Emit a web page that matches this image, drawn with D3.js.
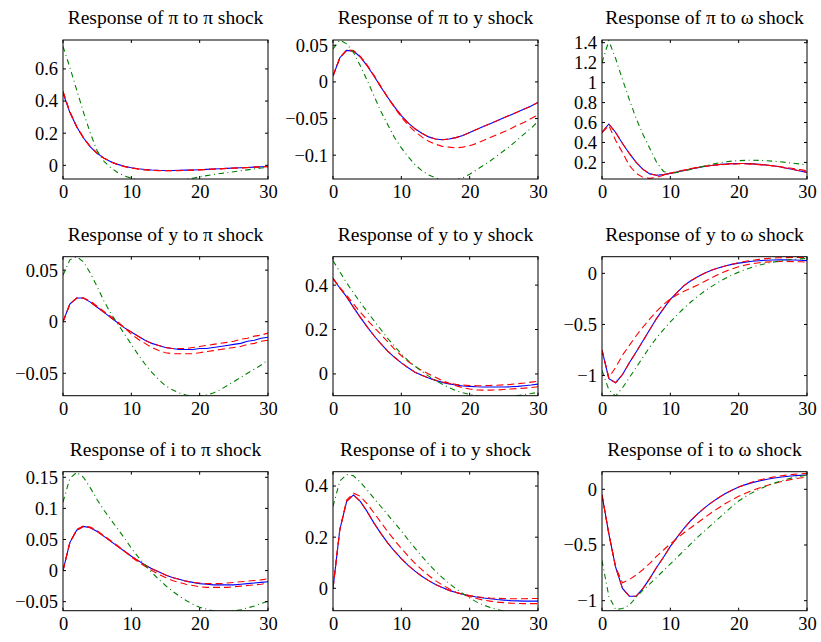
<!DOCTYPE html>
<html>
<head>
<meta charset="utf-8">
<script src="https://cdn.jsdelivr.net/npm/d3@7"></script>
<style>
  body { margin: 0; background: #fff; }
  svg { display: block; }
  text { font-family: "Liberation Serif", "Times New Roman", serif; fill: #000; }
</style>
</head>
<body>
<div class="canvas"></div>
<script>
// horizon (quarters after the shock)
const horizons = [0,1,2,3,4,5,6,7,8,9,10,11,12,13,14,15,16,17,18,19,20,21,22,23,24,25,26,27,28,29,30];
const xTicks = [0, 10, 20, 30];

const titles = [
  "Response of π to π shock", "Response of π to y shock", "Response of π to ω shock",
  "Response of y to π shock", "Response of y to y shock", "Response of y to ω shock",
  "Response of i to π shock", "Response of i to y shock", "Response of i to ω shock"
];

const yTicks = [
  [0, 0.2, 0.4, 0.6],
  [-0.1, -0.05, 0, 0.05],
  [0.2, 0.4, 0.6, 0.8, 1, 1.2, 1.4],
  [-0.05, 0, 0.05],
  [0, 0.2, 0.4],
  [-1, -0.5, 0],
  [-0.05, 0, 0.05, 0.1, 0.15],
  [0, 0.2, 0.4],
  [-1, -0.5, 0]
];

const yLimits = [
  [-0.085, 0.78], [-0.1325, 0.0572], [0.034, 1.427],
  [-0.0717, 0.063], [-0.098, 0.528], [-1.197, 0.163],
  [-0.0645, 0.159], [-0.0875, 0.456], [-1.09, 0.158]
];

// pi to pi
const piPiBlue  = [0.45,0.33,0.24,0.17,0.115,0.075,0.045,0.022,0.006,-0.006,-0.015,-0.021,-0.026,-0.029,-0.031,-0.032,-0.032,-0.031,-0.03,-0.029,-0.027,-0.025,-0.023,-0.021,-0.019,-0.017,-0.015,-0.013,-0.011,-0.009,-0.007];
const piPiRedA  = [0.46,0.33,0.24,0.17,0.115,0.074,0.044,0.021,0.005,-0.007,-0.016,-0.022,-0.027,-0.03,-0.032,-0.033,-0.033,-0.032,-0.031,-0.029,-0.027,-0.025,-0.023,-0.021,-0.019,-0.017,-0.015,-0.013,-0.011,-0.009,-0.007];
const piPiRedB  = [0.46,0.335,0.242,0.172,0.117,0.076,0.045,0.022,0.005,-0.008,-0.017,-0.023,-0.028,-0.031,-0.033,-0.034,-0.034,-0.033,-0.032,-0.03,-0.028,-0.026,-0.024,-0.022,-0.02,-0.018,-0.016,-0.014,-0.012,-0.01,-0.008];
const piPiGreen = [0.74,0.61,0.47,0.33,0.2,0.09,0.025,-0.015,-0.045,-0.066,-0.08,-0.09,-0.097,-0.101,-0.102,-0.101,-0.098,-0.093,-0.087,-0.08,-0.072,-0.064,-0.057,-0.051,-0.046,-0.04,-0.034,-0.028,-0.022,-0.017,-0.012];

// pi to y
const piYBlue  = [0.008,0.033,0.043,0.042,0.034,0.022,0.008,-0.007,-0.021,-0.034,-0.046,-0.056,-0.064,-0.07,-0.075,-0.078,-0.079,-0.078,-0.076,-0.073,-0.069,-0.065,-0.061,-0.057,-0.053,-0.049,-0.045,-0.041,-0.037,-0.033,-0.028];
const piYRedA  = [0.008,0.033,0.043,0.042,0.034,0.022,0.008,-0.007,-0.021,-0.034,-0.046,-0.056,-0.064,-0.07,-0.075,-0.078,-0.079,-0.078,-0.076,-0.073,-0.069,-0.065,-0.061,-0.057,-0.053,-0.049,-0.045,-0.041,-0.037,-0.033,-0.028];
const piYRedB  = [0.008,0.033,0.044,0.043,0.035,0.023,0.009,-0.006,-0.021,-0.035,-0.048,-0.059,-0.068,-0.075,-0.081,-0.085,-0.088,-0.089,-0.09,-0.089,-0.087,-0.084,-0.08,-0.076,-0.072,-0.068,-0.064,-0.059,-0.055,-0.05,-0.045];
const piYGreen = [0.045,0.057,0.052,0.04,0.022,0.002,-0.019,-0.04,-0.058,-0.076,-0.09,-0.102,-0.113,-0.121,-0.127,-0.131,-0.134,-0.135,-0.134,-0.131,-0.126,-0.12,-0.114,-0.108,-0.101,-0.094,-0.087,-0.079,-0.071,-0.063,-0.054];

// pi to omega
const piWBlue  = [0.5,0.585,0.5,0.39,0.29,0.2,0.13,0.085,0.072,0.078,0.09,0.105,0.12,0.135,0.148,0.16,0.17,0.178,0.184,0.188,0.19,0.189,0.186,0.181,0.174,0.166,0.156,0.142,0.129,0.115,0.1];
const piWRedA  = [0.5,0.585,0.5,0.39,0.29,0.2,0.13,0.085,0.072,0.078,0.09,0.105,0.12,0.135,0.148,0.16,0.17,0.178,0.184,0.188,0.19,0.189,0.186,0.181,0.174,0.166,0.156,0.142,0.129,0.115,0.1];
const piWRedB  = [0.5,0.57,0.42,0.3,0.17,0.09,0.05,0.04,0.05,0.072,0.093,0.11,0.125,0.14,0.152,0.162,0.17,0.176,0.18,0.183,0.184,0.184,0.182,0.178,0.173,0.166,0.158,0.149,0.139,0.128,0.116];
const piWGreen = [1.2,1.42,1.24,1.03,0.83,0.64,0.48,0.34,0.2,0.11,0.09,0.1,0.115,0.13,0.148,0.165,0.18,0.194,0.205,0.213,0.218,0.221,0.222,0.221,0.218,0.213,0.207,0.2,0.192,0.184,0.175];

// y to pi
const yPiBlue  = [0,0.017,0.023,0.023,0.019,0.014,0.009,0.004,-0.001,-0.006,-0.01,-0.014,-0.018,-0.021,-0.023,-0.025,-0.026,-0.027,-0.027,-0.027,-0.026,-0.026,-0.025,-0.024,-0.023,-0.022,-0.021,-0.019,-0.018,-0.016,-0.015];
const yPiRedA  = [0,0.017,0.023,0.023,0.019,0.014,0.009,0.004,-0.001,-0.006,-0.01,-0.014,-0.018,-0.021,-0.023,-0.025,-0.026,-0.026,-0.026,-0.025,-0.024,-0.023,-0.022,-0.021,-0.02,-0.019,-0.017,-0.016,-0.014,-0.013,-0.011];
const yPiRedB  = [0,0.017,0.023,0.023,0.02,0.015,0.01,0.005,0,-0.006,-0.012,-0.017,-0.021,-0.025,-0.028,-0.03,-0.031,-0.031,-0.031,-0.031,-0.03,-0.029,-0.028,-0.027,-0.026,-0.025,-0.024,-0.022,-0.021,-0.019,-0.018];
const yPiGreen = [0.045,0.06,0.063,0.058,0.047,0.034,0.02,0.008,-0.002,-0.012,-0.022,-0.032,-0.041,-0.049,-0.056,-0.062,-0.066,-0.069,-0.071,-0.072,-0.072,-0.071,-0.069,-0.066,-0.062,-0.058,-0.054,-0.05,-0.046,-0.042,-0.037];

// y to y
const yYBlue  = [0.43,0.387,0.347,0.3,0.255,0.212,0.172,0.136,0.103,0.075,0.05,0.028,0.008,-0.006,-0.018,-0.029,-0.038,-0.045,-0.05,-0.054,-0.056,-0.058,-0.059,-0.059,-0.059,-0.059,-0.058,-0.056,-0.053,-0.05,-0.046];
const yYRedA  = [0.43,0.387,0.347,0.3,0.255,0.212,0.172,0.136,0.103,0.075,0.05,0.028,0.008,-0.006,-0.018,-0.028,-0.036,-0.042,-0.047,-0.05,-0.052,-0.053,-0.053,-0.052,-0.051,-0.049,-0.047,-0.044,-0.041,-0.037,-0.033];
const yYRedB  = [0.43,0.39,0.354,0.315,0.278,0.243,0.21,0.178,0.145,0.112,0.082,0.056,0.034,0.015,0,-0.015,-0.03,-0.042,-0.053,-0.062,-0.068,-0.072,-0.073,-0.073,-0.072,-0.07,-0.068,-0.066,-0.064,-0.061,-0.058];
const yYGreen = [0.51,0.46,0.41,0.365,0.322,0.28,0.24,0.2,0.16,0.125,0.09,0.06,0.035,0.012,-0.01,-0.03,-0.046,-0.062,-0.075,-0.085,-0.092,-0.098,-0.102,-0.104,-0.104,-0.103,-0.1,-0.097,-0.093,-0.088,-0.083];

// y to omega
const yWBlue  = [-0.75,-1.03,-1.07,-0.99,-0.875,-0.77,-0.66,-0.55,-0.44,-0.345,-0.255,-0.185,-0.12,-0.072,-0.033,0,0.03,0.053,0.072,0.088,0.1,0.11,0.118,0.124,0.128,0.131,0.132,0.132,0.131,0.128,0.125];
const yWRedA  = [-0.75,-1.03,-1.07,-0.99,-0.875,-0.77,-0.66,-0.55,-0.44,-0.345,-0.255,-0.185,-0.12,-0.072,-0.033,0,0.03,0.053,0.072,0.09,0.105,0.118,0.128,0.137,0.144,0.149,0.152,0.154,0.155,0.155,0.154];
const yWRedB  = [-0.75,-1.02,-0.92,-0.8,-0.705,-0.61,-0.525,-0.445,-0.37,-0.305,-0.25,-0.21,-0.175,-0.145,-0.115,-0.08,-0.045,-0.012,0.018,0.043,0.065,0.082,0.095,0.104,0.11,0.114,0.116,0.116,0.115,0.113,0.11];
const yWGreen = [-0.95,-1.14,-1.2,-1.12,-1.02,-0.92,-0.82,-0.72,-0.63,-0.55,-0.475,-0.405,-0.34,-0.28,-0.225,-0.175,-0.13,-0.088,-0.05,-0.017,0.012,0.038,0.06,0.08,0.097,0.11,0.121,0.13,0.137,0.142,0.146];

// i to pi
const iPiBlue  = [0,0.045,0.065,0.071,0.069,0.063,0.055,0.047,0.039,0.031,0.023,0.016,0.009,0.003,-0.002,-0.007,-0.011,-0.014,-0.017,-0.019,-0.021,-0.022,-0.023,-0.023,-0.023,-0.023,-0.022,-0.021,-0.02,-0.019,-0.018];
const iPiRedA  = [0,0.045,0.065,0.071,0.069,0.063,0.055,0.047,0.039,0.031,0.023,0.016,0.009,0.003,-0.002,-0.007,-0.011,-0.014,-0.017,-0.019,-0.02,-0.021,-0.021,-0.021,-0.02,-0.019,-0.018,-0.017,-0.016,-0.015,-0.013];
const iPiRedB  = [0,0.045,0.066,0.072,0.07,0.064,0.056,0.048,0.04,0.031,0.022,0.014,0.007,0,-0.006,-0.011,-0.016,-0.019,-0.022,-0.024,-0.026,-0.027,-0.027,-0.027,-0.027,-0.026,-0.025,-0.024,-0.023,-0.022,-0.02];
const iPiGreen = [0.11,0.148,0.158,0.15,0.133,0.114,0.097,0.082,0.067,0.052,0.036,0.022,0.009,-0.003,-0.014,-0.024,-0.033,-0.041,-0.048,-0.054,-0.059,-0.062,-0.065,-0.066,-0.066,-0.065,-0.063,-0.06,-0.057,-0.053,-0.049];

// i to y
const iYBlue  = [0,0.23,0.34,0.365,0.34,0.3,0.255,0.215,0.178,0.145,0.116,0.09,0.067,0.047,0.03,0.015,0.003,-0.008,-0.016,-0.023,-0.029,-0.034,-0.038,-0.041,-0.044,-0.046,-0.048,-0.049,-0.05,-0.05,-0.05];
const iYRedA  = [0,0.23,0.34,0.365,0.34,0.3,0.255,0.215,0.178,0.145,0.116,0.09,0.067,0.047,0.03,0.015,0.003,-0.008,-0.016,-0.023,-0.028,-0.033,-0.036,-0.038,-0.039,-0.04,-0.041,-0.041,-0.041,-0.04,-0.04];
const iYRedB  = [0,0.23,0.345,0.372,0.36,0.33,0.295,0.258,0.222,0.188,0.156,0.126,0.098,0.073,0.05,0.03,0.013,-0.002,-0.015,-0.025,-0.033,-0.04,-0.046,-0.05,-0.054,-0.056,-0.058,-0.059,-0.06,-0.06,-0.06];
const iYGreen = [0.32,0.42,0.445,0.44,0.415,0.385,0.352,0.32,0.288,0.256,0.224,0.19,0.157,0.125,0.095,0.067,0.042,0.019,-0.002,-0.02,-0.038,-0.053,-0.065,-0.075,-0.083,-0.089,-0.093,-0.095,-0.096,-0.096,-0.095];

// i to omega
const iWBlue  = [-0.05,-0.4,-0.7,-0.89,-0.96,-0.96,-0.89,-0.8,-0.7,-0.61,-0.513,-0.43,-0.35,-0.28,-0.22,-0.167,-0.12,-0.078,-0.04,-0.008,0.02,0.042,0.06,0.075,0.088,0.099,0.108,0.115,0.121,0.125,0.128];
const iWRedA  = [-0.05,-0.4,-0.7,-0.89,-0.96,-0.96,-0.89,-0.8,-0.7,-0.61,-0.513,-0.43,-0.35,-0.28,-0.22,-0.167,-0.12,-0.078,-0.04,-0.008,0.02,0.043,0.066,0.083,0.097,0.109,0.119,0.127,0.134,0.139,0.143];
const iWRedB  = [-0.05,-0.4,-0.7,-0.84,-0.81,-0.77,-0.72,-0.665,-0.6,-0.545,-0.49,-0.44,-0.39,-0.345,-0.3,-0.255,-0.21,-0.17,-0.13,-0.095,-0.063,-0.035,-0.01,0.012,0.032,0.05,0.066,0.08,0.092,0.102,0.11];
const iWGreen = [-0.64,-0.96,-1.08,-1.07,-1.04,-0.97,-0.905,-0.85,-0.79,-0.73,-0.67,-0.61,-0.55,-0.49,-0.43,-0.375,-0.32,-0.265,-0.21,-0.155,-0.105,-0.065,-0.03,0,0.027,0.051,0.072,0.09,0.105,0.117,0.127];

const seriesByPanel = [
  [piPiBlue, piPiRedA, piPiRedB, piPiGreen],
  [piYBlue, piYRedA, piYRedB, piYGreen],
  [piWBlue, piWRedA, piWRedB, piWGreen],
  [yPiBlue, yPiRedA, yPiRedB, yPiGreen],
  [yYBlue, yYRedA, yYRedB, yYGreen],
  [yWBlue, yWRedA, yWRedB, yWGreen],
  [iPiBlue, iPiRedA, iPiRedB, iPiGreen],
  [iYBlue, iYRedA, iYRedB, iYGreen],
  [iWBlue, iWRedA, iWRedB, iWGreen]
];

// line looks: solid blue, two dashed red, dash-dot green
const lineStyles = [
  { color: "#0000ff", dash: null },
  { color: "#ff0000", dash: "7,4" },
  { color: "#ff0000", dash: "7,4" },
  { color: "#008000", dash: "5.5,3.5,1,3.5" }
];

const fullWidth = 821;
const fullHeight = 642;
const colLeft = [63, 333, 602];
const rowTop = [40, 256.7, 471.7];
const width = 205;
const height = 139;

const svg = d3
  .select(".canvas")
  .append("svg")
  .attr("width", fullWidth)
  .attr("height", fullHeight);

const fmt = d3.format("~g");

titles.forEach((title, i) => {
  const g = svg
    .append("g")
    .attr("transform", `translate(${colLeft[i % 3]},${rowTop[Math.floor(i / 3)]})`);

  const x = d3.scaleLinear().domain([0, 30]).range([0, width]);
  const y = d3.scaleLinear().domain(yLimits[i]).range([height, 0]);

  g.append("clipPath")
    .attr("id", `clip${i}`)
    .append("rect")
    .attr("width", width)
    .attr("height", height);

  // lines
  const line = d3
    .line()
    .x((d, k) => x(horizons[k]))
    .y((d) => y(d));

  seriesByPanel[i].forEach((vals, s) => {
    g.append("path")
      .datum(vals)
      .attr("d", line)
      .attr("fill", "none")
      .attr("clip-path", `url(#clip${i})`)
      .attr("stroke", lineStyles[s].color)
      .attr("stroke-width", 1.1)
      .attr("stroke-dasharray", lineStyles[s].dash);
  });

  // box
  g.append("rect")
    .attr("width", width)
    .attr("height", height)
    .attr("fill", "none")
    .attr("stroke", "#000")
    .attr("stroke-width", 1);

  // inward ticks on all four sides
  const tl = 3;
  xTicks.forEach((t) => {
    g.append("line").attr("x1", x(t)).attr("x2", x(t)).attr("y1", height).attr("y2", height - tl).attr("stroke", "#000");
    g.append("line").attr("x1", x(t)).attr("x2", x(t)).attr("y1", 0).attr("y2", tl).attr("stroke", "#000");
  });
  yTicks[i].forEach((t) => {
    g.append("line").attr("x1", 0).attr("x2", tl).attr("y1", y(t)).attr("y2", y(t)).attr("stroke", "#000");
    g.append("line").attr("x1", width).attr("x2", width - tl).attr("y1", y(t)).attr("y2", y(t)).attr("stroke", "#000");
  });

  // tick labels
  const xAxis = g
    .append("g")
    .attr("transform", `translate(0,${height})`)
    .call(d3.axisBottom(x).tickValues(xTicks).tickSize(0).tickPadding(6).tickFormat(fmt));
  const yAxis = g
    .append("g")
    .call(d3.axisLeft(y).tickValues(yTicks[i]).tickSize(0).tickPadding(5).tickFormat(fmt));

  [xAxis, yAxis].forEach((ax) => {
    ax.select(".domain").remove();
    ax.selectAll("text")
      .attr("font-family", null)
      .attr("fill", "#000")
      .style("font-size", "18.5px");
  });

  // title
  g.append("text")
    .attr("x", width / 2)
    .attr("y", -16)
    .attr("text-anchor", "middle")
    .style("font-size", "19.5px")
    .text(title);
});
</script>
</body>
</html>
